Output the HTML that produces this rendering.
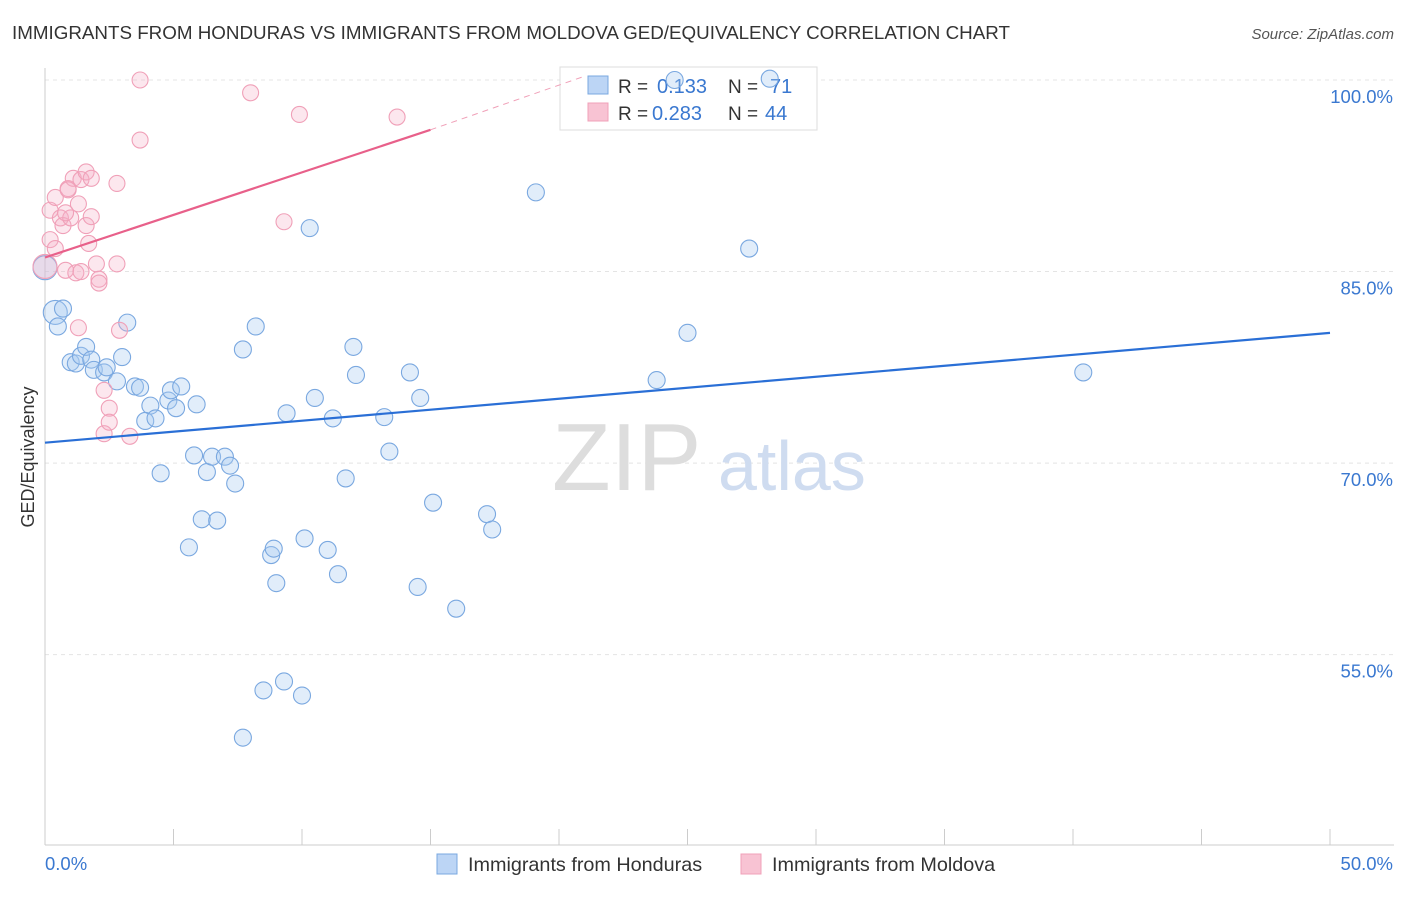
<!DOCTYPE html>
<html><head><meta charset="utf-8"><style>
body{margin:0;background:#fff;font-family:"Liberation Sans",sans-serif;}
svg text{font-family:"Liberation Sans",sans-serif;}
</style></head><body>
<svg id="chart" width="1406" height="892">
<text x="12" y="39" font-size="18.8" fill="#333">IMMIGRANTS FROM HONDURAS VS IMMIGRANTS FROM MOLDOVA GED/EQUIVALENCY CORRELATION CHART</text>
<text x="1394" y="39" font-size="15" fill="#555" text-anchor="end" font-style="italic">Source: ZipAtlas.com</text>
<g id="grid"></g>
<text x="552" y="490" font-size="96" fill="#ddd" font-family="Liberation Serif">ZIP</text>
<text x="718" y="490" font-size="70" fill="#cfdcf0">atlas</text>
<g>
<rect x="560" y="67" width="257" height="63" fill="#fff" stroke="#ddd"/>
<rect x="588" y="76" width="20" height="18" fill="#bcd5f5" stroke="#7aa8e0"/>
<text x="618" y="93" font-size="19" fill="#333">R =</text>
<text x="657" y="93" font-size="20" fill="#3a78d0">0.133</text>
<text x="728" y="93" font-size="19" fill="#333">N =</text>
<text x="770" y="93" font-size="20" fill="#3a78d0">71</text>
<rect x="588" y="103" width="20" height="18" fill="#f8c3d3" stroke="#f0a0b8"/>
<text x="618" y="120" font-size="19" fill="#333">R =</text>
<text x="652" y="120" font-size="20" fill="#3a78d0">0.283</text>
<text x="728" y="120" font-size="19" fill="#333">N =</text>
<text x="765" y="120" font-size="20" fill="#3a78d0">44</text>
</g>
<g id="axes"></g>
<g id="marks"></g>
<text x="34" y="457" font-size="18" fill="#333" text-anchor="middle" transform="rotate(-90 34 457)">GED/Equivalency</text>
<g>
<rect x="437" y="854" width="20" height="20" fill="#bcd5f5" stroke="#7aa8e0"/>
<text x="468" y="871" font-size="19.8" fill="#333">Immigrants from Honduras</text>
<rect x="741" y="854" width="20" height="20" fill="#f8c3d3" stroke="#f0a0b8"/>
<text x="772" y="871" font-size="19.8" fill="#333">Immigrants from Moldova</text>
</g>
</svg>
<script>
const yTicks=[100,85,70,55];
const yTickLabels=["100.0%","85.0%","70.0%","55.0%"];
const xTickVals=[0,5,10,15,20,25,30,35,40,45,50];
const blueX=[0,0.4,0.7,0.5,1.0,1.2,1.4,1.6,1.8,1.9,2.3,2.4,2.8,3.0,3.2,3.5,3.7,4.1,3.9,4.3,4.5,4.8,4.9,5.1,5.3,5.6,5.8,5.9,6.1,6.3,6.5,6.7,7.0,7.2,7.4,7.7,7.7,8.2,8.5,8.8,8.9,9.0,9.3,9.4,10.0,10.1,10.3,10.5,11.0,11.2,11.4,11.7,12.0,12.1,13.2,13.4,14.2,14.5,14.6,15.1,16.0,17.2,17.4,19.1,23.8,24.5,25.0,27.4,28.2,40.4];
const blueY=[85.3,81.8,82.1,80.7,77.9,77.8,78.4,79.1,78.1,77.3,77.1,77.5,76.4,78.3,81.0,76.0,75.9,74.5,73.3,73.5,69.2,74.9,75.7,74.3,76.0,63.4,70.6,74.6,65.6,69.3,70.5,65.5,70.5,69.8,68.4,48.5,78.9,80.7,52.2,62.8,63.3,60.6,52.9,73.9,51.8,64.1,88.4,75.1,63.2,73.5,61.3,68.8,79.1,76.9,73.6,70.9,77.1,60.3,75.1,66.9,58.6,66.0,64.8,91.2,76.5,100.0,80.2,86.8,100.1,77.1];
const pinkX=[0,0.2,0.4,0.2,0.4,0.6,0.7,0.8,0.9,1.0,1.1,1.2,1.3,1.3,1.4,1.4,1.6,1.6,1.7,1.8,1.8,2.0,2.1,2.1,2.3,2.3,2.5,2.5,2.8,2.8,2.9,3.3,3.7,3.7,8.0,9.3,9.9,13.7,0.8,0.9];
const pinkY=[85.4,89.8,90.8,87.5,86.8,89.2,88.6,85.1,91.5,89.2,92.3,84.9,80.6,90.3,92.2,85.0,92.8,88.6,87.2,89.3,92.3,85.6,84.4,84.1,72.3,75.7,74.3,73.2,85.6,91.9,80.4,72.1,100.0,95.3,99.0,88.9,97.3,97.1,89.6,91.4];
const blueTrend=[[0,71.6],[50,80.2]];
const pinkTrend=[[0,86.1],[15,96.1]];
const pinkDash=[[15,96.1],[21,100.3]];
const NS="http://www.w3.org/2000/svg";
const X=v=>45+v*25.7, Y=v=>80+(100-v)*12.77;
function mk(tag,attrs,parent){const e=document.createElementNS(NS,tag);for(const k in attrs)e.setAttribute(k,attrs[k]);parent.appendChild(e);return e;}
const grid=document.getElementById('grid'),axes=document.getElementById('axes'),marks=document.getElementById('marks');
yTicks.forEach((t,i)=>{
 const l=mk('line',{x1:45,x2:1394,y1:Y(t),y2:Y(t),stroke:'#e4e4e4','stroke-dasharray':'4,4'},grid);
 
 
 const tx=mk('text',{x:1393,y:Y(t)+23,'font-size':18.5,fill:'#3a78d0','text-anchor':'end'},axes);
 tx.textContent=yTickLabels[i];
 
 
});
mk('line',{x1:45,x2:45,y1:68,y2:845,stroke:'#ccc'},axes);
mk('line',{x1:45,x2:1394,y1:845,y2:845,stroke:'#ccc'},axes);
xTickVals.forEach(t=>{
 const l=mk('line',{x1:X(t),x2:X(t),y1:829,y2:845,stroke:'#ccc'},axes);
 
 
});
const x0=mk('text',{x:45,y:870,'font-size':18.5,fill:'#3a78d0'},axes);x0.textContent='0.0%';


const x1=mk('text',{x:1393,y:870,'font-size':18.5,fill:'#3a78d0','text-anchor':'end'},axes);x1.textContent='50.0%';


blueX.forEach((v,i)=>{
 const big=(i<4&&v<0.5);
 const c=mk('circle',{cx:X(v),cy:Y(blueY[i]),r:big?12:8.5,fill:'rgba(170,202,242,0.35)',stroke:'#7aa8e0','stroke-width':1.1},marks);
 
 
});
pinkX.forEach((v,i)=>{
 const c=mk('circle',{cx:X(v),cy:Y(pinkY[i]),r:i==0?12:8,fill:'rgba(245,175,198,0.3)',stroke:'#f0a0b8','stroke-width':1.1},marks);
 
 
});
const bt=mk('line',{x1:X(blueTrend[0][0]),y1:Y(blueTrend[0][1]),x2:X(blueTrend[1][0]),y2:Y(blueTrend[1][1]),stroke:'#2a6fd6','stroke-width':2.2},marks);


const pt=mk('line',{x1:X(pinkTrend[0][0]),y1:Y(pinkTrend[0][1]),x2:X(pinkTrend[1][0]),y2:Y(pinkTrend[1][1]),stroke:'#e8608a','stroke-width':2.2},marks);


const pd=mk('line',{x1:X(pinkDash[0][0]),y1:Y(pinkDash[0][1]),x2:X(pinkDash[1][0]),y2:Y(pinkDash[1][1]),stroke:'#f0a0b8','stroke-width':1,'stroke-dasharray':'6,5'},marks);


</script>
</body></html>
